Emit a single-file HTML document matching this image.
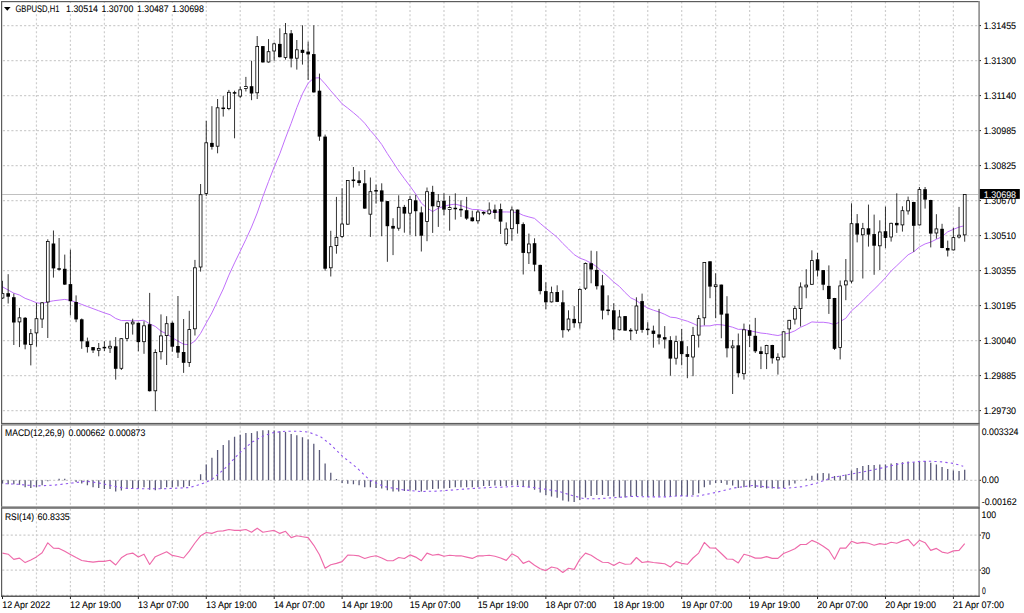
<!DOCTYPE html>
<html><head><meta charset="utf-8"><style>
html,body{margin:0;padding:0;background:#fff;}
body{width:1024px;height:613px;overflow:hidden;}
svg{display:block;}
</style></head><body>
<svg width="1024" height="613" viewBox="0 0 1024 613" shape-rendering="geometricPrecision">
<rect x="0" y="0" width="1024" height="613" fill="#fff"/>
<path d="M36.46 1.5V422.9M36.46 426.3V506.3M36.46 508.7V595.5M70.42 1.5V422.9M70.42 426.3V506.3M70.42 508.7V595.5M104.38 1.5V422.9M104.38 426.3V506.3M104.38 508.7V595.5M138.34 1.5V422.9M138.34 426.3V506.3M138.34 508.7V595.5M172.30 1.5V422.9M172.30 426.3V506.3M172.30 508.7V595.5M206.26 1.5V422.9M206.26 426.3V506.3M206.26 508.7V595.5M240.22 1.5V422.9M240.22 426.3V506.3M240.22 508.7V595.5M274.18 1.5V422.9M274.18 426.3V506.3M274.18 508.7V595.5M308.14 1.5V422.9M308.14 426.3V506.3M308.14 508.7V595.5M342.10 1.5V422.9M342.10 426.3V506.3M342.10 508.7V595.5M376.06 1.5V422.9M376.06 426.3V506.3M376.06 508.7V595.5M410.02 1.5V422.9M410.02 426.3V506.3M410.02 508.7V595.5M443.98 1.5V422.9M443.98 426.3V506.3M443.98 508.7V595.5M477.94 1.5V422.9M477.94 426.3V506.3M477.94 508.7V595.5M511.90 1.5V422.9M511.90 426.3V506.3M511.90 508.7V595.5M545.86 1.5V422.9M545.86 426.3V506.3M545.86 508.7V595.5M579.82 1.5V422.9M579.82 426.3V506.3M579.82 508.7V595.5M613.78 1.5V422.9M613.78 426.3V506.3M613.78 508.7V595.5M647.74 1.5V422.9M647.74 426.3V506.3M647.74 508.7V595.5M681.70 1.5V422.9M681.70 426.3V506.3M681.70 508.7V595.5M715.66 1.5V422.9M715.66 426.3V506.3M715.66 508.7V595.5M749.62 1.5V422.9M749.62 426.3V506.3M749.62 508.7V595.5M783.58 1.5V422.9M783.58 426.3V506.3M783.58 508.7V595.5M817.54 1.5V422.9M817.54 426.3V506.3M817.54 508.7V595.5M851.50 1.5V422.9M851.50 426.3V506.3M851.50 508.7V595.5M885.46 1.5V422.9M885.46 426.3V506.3M885.46 508.7V595.5M919.42 1.5V422.9M919.42 426.3V506.3M919.42 508.7V595.5M953.38 1.5V422.9M953.38 426.3V506.3M953.38 508.7V595.5" stroke="#cecece" stroke-width="1.2" stroke-dasharray="2.1228 2.1228" fill="none"/>
<path d="M2.87 25.60H978.2M2.87 60.60H978.2M2.87 95.60H978.2M2.87 130.60H978.2M2.87 165.60H978.2M2.87 200.60H978.2M2.87 235.60H978.2M2.87 270.60H978.2M2.87 305.60H978.2M2.87 340.60H978.2M2.87 375.60H978.2M2.87 410.60H978.2M2.2 480.3H978.2M2.2 535.1H978.2M2.2 570.1H978.2M2.2 595.3H978.2" stroke="#cecece" stroke-width="1.2" stroke-dasharray="2.1228 2.1228" fill="none"/>
<path d="M2.2 194.5H978.2" stroke="#c0c0c0" stroke-width="1" fill="none"/>
<defs><clipPath id="cm"><rect x="2" y="2" width="976.3" height="420.9"/></clipPath><clipPath id="cmacd"><rect x="2" y="425.6" width="976.3" height="80.7"/></clipPath><clipPath id="crsi"><rect x="2" y="508.7" width="976.3" height="86.8"/></clipPath></defs>
<rect x="2.2" y="3" width="203" height="11" fill="#fff"/>
<rect x="2.2" y="428.3" width="145" height="10.2" fill="#fff"/>
<polyline clip-path="url(#cm)" points="1.50,286.27 8.16,290.03 13.82,293.16 19.48,295.04 25.14,298.33 30.80,300.42 36.46,302.74 42.12,303.56 47.78,301.87 53.44,300.79 59.10,300.10 64.76,299.42 70.42,300.36 76.08,302.28 81.74,304.41 87.40,306.54 93.06,308.66 98.72,310.78 104.38,312.90 110.04,314.69 115.70,318.48 121.36,320.55 127.02,320.57 132.68,320.81 138.34,320.68 144.00,320.28 149.66,323.93 155.32,326.42 160.98,331.14 166.64,333.89 172.30,337.74 177.96,341.14 183.62,344.22 189.28,344.71 194.94,341.01 200.60,333.37 206.26,322.97 211.92,312.90 217.58,300.88 223.24,289.00 228.90,275.15 234.56,262.90 240.22,251.24 245.88,239.45 251.54,227.03 257.20,213.06 262.86,196.62 268.52,181.58 274.18,166.98 279.84,153.67 285.50,138.00 291.16,123.30 296.82,107.63 302.48,93.81 308.14,83.17 313.80,78.07 319.46,77.78 325.12,83.87 330.78,90.81 336.44,97.23 342.10,103.82 347.76,108.14 353.42,112.70 359.08,117.53 364.74,123.28 370.40,130.55 376.06,136.98 381.72,144.50 387.38,153.63 393.04,162.20 398.70,170.88 404.36,178.63 410.02,186.12 415.68,194.03 421.34,203.10 427.00,208.04 432.66,211.53 438.32,208.16 443.98,206.33 449.64,204.85 455.30,204.12 460.96,205.62 466.62,207.52 472.28,209.43 477.94,209.58 483.60,210.69 489.26,211.62 494.92,212.19 500.58,211.95 506.24,211.95 511.90,212.09 517.56,212.61 523.22,215.30 528.88,216.93 534.54,218.38 540.20,223.37 545.86,228.17 551.52,232.72 557.18,237.33 562.84,243.47 568.50,248.95 574.16,254.61 579.82,258.13 585.48,260.23 591.14,263.12 596.80,266.75 602.46,271.80 608.12,276.69 613.78,282.07 619.44,286.48 625.10,292.53 630.76,297.86 636.42,300.50 642.08,304.81 647.74,308.06 653.40,310.20 659.06,311.97 664.72,314.33 670.38,317.17 676.04,317.72 681.70,319.50 687.36,321.18 693.02,323.49 698.68,326.24 704.34,325.87 710.00,325.89 715.66,324.58 721.32,324.79 726.98,325.73 732.64,327.22 738.30,329.35 743.96,329.27 749.62,330.78 755.28,331.85 760.94,333.06 766.60,333.62 772.26,334.65 777.92,335.52 783.58,334.16 789.24,333.09 794.90,330.80 800.56,327.28 806.22,324.81 811.88,321.92 817.54,322.34 823.20,322.25 828.86,322.96 834.52,324.68 840.18,321.54 845.84,318.25 851.50,310.75 857.16,306.01 862.82,300.64 868.48,294.80 874.14,289.39 879.80,283.72 885.46,277.70 891.12,271.00 896.78,265.69 902.44,260.21 908.10,254.81 913.76,251.78 919.42,246.95 925.08,243.92 930.74,242.08 936.40,239.27 942.06,236.72 947.72,231.80 953.38,229.38 959.04,227.10 964.70,225.64" fill="none" stroke="#c070fb" stroke-width="1.0" stroke-linejoin="round"/>
<g clip-path="url(#cm)">
<path d="M2.50 280.80V299.00M8.16 274.20V303.50M13.82 293.60V345.00M19.48 307.90V347.10M25.14 317.00V349.30M30.80 329.00V365.40M36.46 302.90V346.60M42.12 302.00V328.00M47.78 239.30V338.00M53.44 230.50V277.60M59.10 238.00V270.50M64.76 254.60V285.00M70.42 249.60V315.40M76.08 295.40V322.20M81.74 318.50V348.80M87.40 337.60V352.60M93.06 347.00V353.00M98.72 343.00V356.30M104.38 341.30V351.00M110.04 341.00V353.00M115.70 337.10V379.60M121.36 338.00V370.00M127.02 322.00V341.30M132.68 318.70V334.60M138.34 322.50V351.30M144.00 321.20V353.80M149.66 292.90V391.50M155.32 349.30V411.20M160.98 314.40V359.60M166.64 316.20V365.00M172.30 321.50V351.70M177.96 296.00V358.00M183.62 319.00V372.90M189.28 310.80V366.90M194.94 259.90V335.50M200.60 184.00V271.60M206.26 120.80V196.00M211.92 106.20V149.60M217.58 99.00V153.30M223.24 95.70V116.60M228.90 89.90V110.20M234.56 90.70V138.30M240.22 86.50V98.20M245.88 76.90V91.50M251.54 60.80V100.20M257.20 36.10V99.00M262.86 46.00V62.60M268.52 39.10V62.60M274.18 42.50V60.80M279.84 28.30V57.40M285.50 23.00V59.60M291.16 30.00V67.40M296.82 40.00V69.60M302.48 25.30V64.60M308.14 41.60V79.90M313.80 25.30V92.60M319.46 73.60V140.80M325.12 134.60V270.70M330.78 230.80V276.50M336.44 196.90V253.70M342.10 188.30V238.20M347.76 180.00V224.80M353.42 167.00V187.50M359.08 171.30V185.80M364.74 170.00V208.80M370.40 177.50V236.90M376.06 184.60V203.60M381.72 183.30V236.20M387.38 201.00V261.80M393.04 218.20V255.10M398.70 195.30V230.70M404.36 204.90V232.70M410.02 195.80V234.90M415.68 194.90V236.20M421.34 206.60V251.50M427.00 187.50V241.20M432.66 185.80V232.90M438.32 194.10V226.90M443.98 193.30V215.20M449.64 195.80V230.70M455.30 193.30V219.60M460.96 200.30V216.90M466.62 196.90V219.90M472.28 210.70V221.50M477.94 209.90V223.60M483.60 211.50V215.20M489.26 202.40V214.90M494.92 204.60V219.10M500.58 203.60V234.00M506.24 222.40V245.70M511.90 206.60V240.70M517.56 209.50V233.60M523.22 222.40V274.50M528.88 233.60V264.00M534.54 238.30V271.30M540.20 264.70V294.40M545.86 282.30V309.40M551.52 286.60V302.50M557.18 285.30V302.10M562.84 290.30V337.70M568.50 310.30V331.60M574.16 306.10V327.70M579.82 288.20V328.60M585.48 262.50V290.00M591.14 250.70V283.30M596.80 251.20V289.50M602.46 274.90V319.40M608.12 295.30V315.20M613.78 303.30V340.20M619.44 309.90V330.40M625.10 316.00V330.80M630.76 328.20V340.20M636.42 297.30V333.90M642.08 293.60V332.70M647.74 322.20V335.20M653.40 325.60V347.70M659.06 308.90V344.40M664.72 326.10V348.50M670.38 336.20V375.70M676.04 335.70V364.60M681.70 329.00V365.30M687.36 346.20V378.20M693.02 326.90V376.20M698.68 315.20V347.50M704.34 262.00V325.30M710.00 261.30V298.20M715.66 273.30V318.20M721.32 284.60V338.30M726.98 296.20V357.40M732.64 340.00V394.00M738.30 333.50V377.40M743.96 323.60V379.60M749.62 324.60V347.00M755.28 317.90V353.00M760.94 346.60V369.10M766.60 344.80V369.10M772.26 344.80V363.60M777.92 353.30V374.60M783.58 331.30V357.60M789.24 319.90V340.80M794.90 305.70V324.50M800.56 282.40V326.50M806.22 269.20V298.30M811.88 250.30V284.90M817.54 253.00V276.50M823.20 270.00V290.20M828.86 265.40V313.90M834.52 297.90V350.00M840.18 280.50V359.40M845.84 259.00V300.20M851.50 203.30V283.30M857.16 214.10V242.40M862.82 222.90V278.50M868.48 204.60V246.60M874.14 214.60V274.80M879.80 220.30V270.00M885.46 206.60V248.20M891.12 222.70V241.60M896.78 193.30V232.90M902.44 206.30V231.60M908.10 196.60V214.60M913.76 201.80V251.90M919.42 187.00V225.50M925.08 187.00V208.60M930.74 199.80V247.40M936.40 214.20V238.70M942.06 223.80V248.20M947.72 240.60V256.50M953.38 227.80V250.50M959.04 206.90V238.50M964.70 194.00V241.70" stroke="#000" stroke-width="0.8" fill="none"/>
<g fill="#000"><rect x="6.36" y="293.20" width="3.6" height="3.50"/><rect x="12.02" y="297.20" width="3.6" height="25.30"/><rect x="23.34" y="317.80" width="3.6" height="26.80"/><rect x="51.64" y="243.50" width="3.6" height="24.90"/><rect x="57.30" y="268.25" width="3.6" height="1.50"/><rect x="62.96" y="268.80" width="3.6" height="15.80"/><rect x="68.62" y="284.10" width="3.6" height="17.10"/><rect x="74.28" y="302.00" width="3.6" height="17.40"/><rect x="79.94" y="319.30" width="3.6" height="22.00"/><rect x="85.60" y="341.30" width="3.6" height="5.80"/><rect x="91.26" y="347.10" width="3.6" height="3.30"/><rect x="102.58" y="346.85" width="3.6" height="1.50"/><rect x="113.90" y="346.30" width="3.6" height="22.50"/><rect x="136.54" y="322.80" width="3.6" height="19.30"/><rect x="147.86" y="324.20" width="3.6" height="67.00"/><rect x="170.50" y="322.80" width="3.6" height="23.90"/><rect x="176.16" y="346.00" width="3.6" height="6.60"/><rect x="181.82" y="352.00" width="3.6" height="10.80"/><rect x="210.12" y="142.90" width="3.6" height="4.00"/><rect x="221.44" y="107.55" width="3.6" height="1.50"/><rect x="232.76" y="92.15" width="3.6" height="1.50"/><rect x="249.74" y="86.20" width="3.6" height="7.30"/><rect x="261.06" y="46.10" width="3.6" height="16.30"/><rect x="278.04" y="43.90" width="3.6" height="13.30"/><rect x="289.36" y="33.30" width="3.6" height="25.30"/><rect x="300.68" y="49.80" width="3.6" height="3.10"/><rect x="306.34" y="51.60" width="3.6" height="2.80"/><rect x="312.00" y="54.10" width="3.6" height="38.30"/><rect x="317.66" y="90.70" width="3.6" height="45.90"/><rect x="323.32" y="136.60" width="3.6" height="132.10"/><rect x="351.62" y="179.55" width="3.6" height="1.50"/><rect x="357.28" y="180.30" width="3.6" height="2.70"/><rect x="362.94" y="183.30" width="3.6" height="25.30"/><rect x="374.26" y="190.05" width="3.6" height="1.50"/><rect x="379.92" y="190.40" width="3.6" height="11.20"/><rect x="385.58" y="201.10" width="3.6" height="25.10"/><rect x="391.24" y="225.90" width="3.6" height="2.70"/><rect x="402.56" y="206.90" width="3.6" height="6.70"/><rect x="413.88" y="200.30" width="3.6" height="10.90"/><rect x="419.54" y="212.40" width="3.6" height="23.30"/><rect x="430.86" y="191.90" width="3.6" height="14.40"/><rect x="442.18" y="200.80" width="3.6" height="8.80"/><rect x="453.50" y="207.75" width="3.6" height="1.50"/><rect x="459.16" y="208.85" width="3.6" height="1.50"/><rect x="464.82" y="210.20" width="3.6" height="8.40"/><rect x="470.48" y="217.40" width="3.6" height="3.80"/><rect x="481.80" y="211.90" width="3.6" height="1.70"/><rect x="493.12" y="209.60" width="3.6" height="3.30"/><rect x="498.78" y="209.10" width="3.6" height="12.50"/><rect x="515.76" y="209.60" width="3.6" height="14.50"/><rect x="521.42" y="224.10" width="3.6" height="28.80"/><rect x="532.74" y="243.20" width="3.6" height="21.50"/><rect x="538.40" y="264.90" width="3.6" height="26.20"/><rect x="544.06" y="291.10" width="3.6" height="11.20"/><rect x="555.38" y="292.00" width="3.6" height="9.90"/><rect x="561.04" y="302.30" width="3.6" height="27.90"/><rect x="572.36" y="318.90" width="3.6" height="4.30"/><rect x="589.34" y="263.20" width="3.6" height="6.30"/><rect x="595.00" y="269.90" width="3.6" height="16.30"/><rect x="600.66" y="285.40" width="3.6" height="25.20"/><rect x="606.32" y="309.55" width="3.6" height="1.50"/><rect x="611.98" y="310.30" width="3.6" height="19.10"/><rect x="623.30" y="316.10" width="3.6" height="14.50"/><rect x="628.96" y="329.85" width="3.6" height="1.50"/><rect x="640.28" y="301.10" width="3.6" height="28.80"/><rect x="645.94" y="328.65" width="3.6" height="1.50"/><rect x="651.60" y="330.60" width="3.6" height="3.30"/><rect x="657.26" y="334.40" width="3.6" height="3.30"/><rect x="662.92" y="337.20" width="3.6" height="2.30"/><rect x="668.58" y="340.10" width="3.6" height="18.50"/><rect x="679.90" y="341.20" width="3.6" height="12.90"/><rect x="685.56" y="354.10" width="3.6" height="2.80"/><rect x="708.20" y="261.30" width="3.6" height="25.30"/><rect x="719.52" y="284.60" width="3.6" height="30.00"/><rect x="725.18" y="313.60" width="3.6" height="34.70"/><rect x="736.50" y="345.30" width="3.6" height="27.90"/><rect x="747.82" y="330.20" width="3.6" height="5.60"/><rect x="753.48" y="335.80" width="3.6" height="15.50"/><rect x="759.14" y="351.20" width="3.6" height="2.80"/><rect x="770.46" y="345.00" width="3.6" height="13.30"/><rect x="815.74" y="259.30" width="3.6" height="11.20"/><rect x="821.40" y="270.10" width="3.6" height="14.60"/><rect x="827.06" y="285.90" width="3.6" height="13.10"/><rect x="832.72" y="298.00" width="3.6" height="50.80"/><rect x="855.36" y="223.30" width="3.6" height="11.30"/><rect x="866.68" y="228.30" width="3.6" height="6.30"/><rect x="872.34" y="234.10" width="3.6" height="11.60"/><rect x="883.66" y="231.20" width="3.6" height="6.70"/><rect x="894.98" y="222.90" width="3.6" height="2.40"/><rect x="911.96" y="202.00" width="3.6" height="23.80"/><rect x="923.28" y="189.20" width="3.6" height="10.40"/><rect x="928.94" y="200.00" width="3.6" height="33.60"/><rect x="940.26" y="228.80" width="3.6" height="19.20"/><rect x="945.92" y="248.00" width="3.6" height="2.50"/></g>
<g fill="#fff" stroke="#000" stroke-width="0.8"><rect x="1.10" y="293.60" width="2.80" height="4.40"/><rect x="18.08" y="317.80" width="2.80" height="4.10"/><rect x="29.40" y="333.70" width="2.80" height="10.90"/><rect x="35.06" y="318.70" width="2.80" height="14.20"/><rect x="40.72" y="302.80" width="2.80" height="16.20"/><rect x="46.38" y="241.40" width="2.80" height="60.60"/><rect x="97.32" y="348.45" width="2.80" height="1.80"/><rect x="108.64" y="346.25" width="2.80" height="1.80"/><rect x="119.96" y="338.70" width="2.80" height="29.60"/><rect x="125.62" y="323.10" width="2.80" height="15.30"/><rect x="131.28" y="322.10" width="2.80" height="1.80"/><rect x="142.60" y="325.80" width="2.80" height="15.90"/><rect x="153.92" y="352.50" width="2.80" height="38.30"/><rect x="159.58" y="335.90" width="2.80" height="15.80"/><rect x="165.24" y="323.70" width="2.80" height="11.90"/><rect x="187.88" y="329.60" width="2.80" height="32.80"/><rect x="193.54" y="267.80" width="2.80" height="61.00"/><rect x="199.20" y="194.70" width="2.80" height="72.30"/><rect x="204.86" y="142.80" width="2.80" height="50.60"/><rect x="216.18" y="107.80" width="2.80" height="38.40"/><rect x="227.50" y="92.30" width="2.80" height="16.30"/><rect x="238.82" y="89.80" width="2.80" height="6.30"/><rect x="244.48" y="86.60" width="2.80" height="1.80"/><rect x="255.80" y="46.50" width="2.80" height="46.30"/><rect x="267.12" y="51.70" width="2.80" height="10.30"/><rect x="272.78" y="43.80" width="2.80" height="7.20"/><rect x="284.10" y="33.70" width="2.80" height="23.70"/><rect x="295.42" y="49.80" width="2.80" height="8.40"/><rect x="329.38" y="246.70" width="2.80" height="21.10"/><rect x="335.04" y="237.30" width="2.80" height="8.30"/><rect x="340.70" y="224.00" width="2.80" height="12.50"/><rect x="346.36" y="180.40" width="2.80" height="43.80"/><rect x="369.00" y="191.70" width="2.80" height="22.50"/><rect x="397.30" y="207.30" width="2.80" height="20.90"/><rect x="408.62" y="199.50" width="2.80" height="13.70"/><rect x="425.60" y="191.70" width="2.80" height="29.80"/><rect x="436.92" y="201.70" width="2.80" height="4.80"/><rect x="448.24" y="207.60" width="2.80" height="1.80"/><rect x="476.54" y="212.00" width="2.80" height="8.80"/><rect x="487.86" y="210.00" width="2.80" height="3.70"/><rect x="504.84" y="229.00" width="2.80" height="14.70"/><rect x="510.50" y="210.00" width="2.80" height="18.70"/><rect x="527.48" y="244.00" width="2.80" height="8.80"/><rect x="550.12" y="292.70" width="2.80" height="9.20"/><rect x="567.10" y="319.00" width="2.80" height="10.80"/><rect x="578.42" y="289.40" width="2.80" height="33.40"/><rect x="584.08" y="263.50" width="2.80" height="24.70"/><rect x="618.04" y="317.00" width="2.80" height="12.80"/><rect x="635.02" y="306.00" width="2.80" height="24.20"/><rect x="674.64" y="341.60" width="2.80" height="16.60"/><rect x="691.62" y="335.50" width="2.80" height="21.50"/><rect x="697.28" y="318.60" width="2.80" height="16.50"/><rect x="702.94" y="262.40" width="2.80" height="55.40"/><rect x="714.26" y="284.85" width="2.80" height="1.80"/><rect x="731.24" y="346.00" width="2.80" height="1.80"/><rect x="742.56" y="329.80" width="2.80" height="43.90"/><rect x="765.20" y="345.40" width="2.80" height="8.30"/><rect x="776.52" y="357.30" width="2.80" height="2.60"/><rect x="782.18" y="331.80" width="2.80" height="25.20"/><rect x="787.84" y="320.30" width="2.80" height="8.60"/><rect x="793.50" y="308.60" width="2.80" height="10.50"/><rect x="799.16" y="287.00" width="2.80" height="21.60"/><rect x="804.82" y="285.10" width="2.80" height="1.80"/><rect x="810.48" y="260.60" width="2.80" height="23.70"/><rect x="838.78" y="285.90" width="2.80" height="61.60"/><rect x="844.44" y="280.90" width="2.80" height="4.00"/><rect x="850.10" y="223.70" width="2.80" height="57.40"/><rect x="861.42" y="228.70" width="2.80" height="6.10"/><rect x="878.40" y="232.00" width="2.80" height="13.80"/><rect x="889.72" y="223.30" width="2.80" height="13.70"/><rect x="901.04" y="210.70" width="2.80" height="14.20"/><rect x="906.70" y="200.70" width="2.80" height="10.20"/><rect x="918.02" y="189.60" width="2.80" height="35.30"/><rect x="935.00" y="228.90" width="2.80" height="4.10"/><rect x="951.98" y="237.60" width="2.80" height="12.30"/><rect x="957.64" y="235.20" width="2.80" height="1.80"/><rect x="963.30" y="194.40" width="2.80" height="40.50"/></g>
</g>
<path clip-path="url(#cmacd)" d="M2.50 480.3V483.40M8.16 480.3V484.30M13.82 480.3V484.30M19.48 480.3V484.80M25.14 480.3V487.30M30.80 480.3V487.90M36.46 480.3V487.30M42.12 480.3V485.20M47.78 480.3V481.20M59.10 480.3V478.80M64.76 480.3V478.80M76.08 480.3V481.90M81.74 480.3V483.40M87.40 480.3V485.20M93.06 480.3V487.30M98.72 480.3V487.90M104.38 480.3V489.10M110.04 480.3V489.10M115.70 480.3V491.50M121.36 480.3V490.60M127.02 480.3V489.10M132.68 480.3V488.40M138.34 480.3V488.40M144.00 480.3V487.30M149.66 480.3V489.70M155.32 480.3V490.20M160.98 480.3V489.10M166.64 480.3V487.30M172.30 480.3V487.30M177.96 480.3V486.60M183.62 480.3V487.30M189.28 480.3V486.00M194.94 480.3V480.80M200.60 480.3V474.20M206.26 480.3V464.40M211.92 480.3V457.80M217.58 480.3V450.00M223.24 480.3V445.00M228.90 480.3V440.20M234.56 480.3V436.70M240.22 480.3V434.70M245.88 480.3V433.10M251.54 480.3V433.10M257.20 480.3V431.25M262.86 480.3V430.20M268.52 480.3V430.20M274.18 480.3V430.50M279.84 480.3V431.25M285.50 480.3V432.00M291.16 480.3V433.90M296.82 480.3V435.30M302.48 480.3V437.20M308.14 480.3V439.40M313.80 480.3V443.75M319.46 480.3V450.00M325.12 480.3V463.60M330.78 480.3V472.80M336.44 480.3V478.90M342.10 480.3V483.00M347.76 480.3V483.70M353.42 480.3V484.30M359.08 480.3V485.20M364.74 480.3V487.30M370.40 480.3V487.30M376.06 480.3V487.90M381.72 480.3V488.40M387.38 480.3V490.20M393.04 480.3V491.50M398.70 480.3V491.50M404.36 480.3V490.90M410.02 480.3V490.60M415.68 480.3V490.20M421.34 480.3V491.50M427.00 480.3V489.70M432.66 480.3V489.10M438.32 480.3V488.80M443.98 480.3V488.40M449.64 480.3V487.90M455.30 480.3V487.30M460.96 480.3V487.30M466.62 480.3V487.30M472.28 480.3V487.30M477.94 480.3V487.00M483.60 480.3V486.10M489.26 480.3V486.10M494.92 480.3V485.50M500.58 480.3V486.10M506.24 480.3V486.10M511.90 480.3V485.20M517.56 480.3V485.20M523.22 480.3V487.00M528.88 480.3V487.30M534.54 480.3V489.70M540.20 480.3V492.40M545.86 480.3V495.10M551.52 480.3V496.40M557.18 480.3V497.80M562.84 480.3V500.50M568.50 480.3V501.40M574.16 480.3V502.00M579.82 480.3V500.00M585.48 480.3V497.50M591.14 480.3V496.00M596.80 480.3V495.10M602.46 480.3V495.10M608.12 480.3V496.00M613.78 480.3V496.40M619.44 480.3V497.50M625.10 480.3V497.50M630.76 480.3V496.40M636.42 480.3V496.00M642.08 480.3V496.00M647.74 480.3V496.90M653.40 480.3V496.40M659.06 480.3V496.40M664.72 480.3V496.40M670.38 480.3V496.40M676.04 480.3V496.00M681.70 480.3V496.00M687.36 480.3V496.40M693.02 480.3V495.10M698.68 480.3V493.30M704.34 480.3V487.30M710.00 480.3V484.80M715.66 480.3V483.00M721.32 480.3V483.00M726.98 480.3V484.80M732.64 480.3V485.50M738.30 480.3V487.90M743.96 480.3V487.30M749.62 480.3V487.30M755.28 480.3V487.90M760.94 480.3V487.90M766.60 480.3V488.40M772.26 480.3V488.40M777.92 480.3V488.80M783.58 480.3V487.90M789.24 480.3V485.50M794.90 480.3V483.40M800.56 480.3V480.60M806.22 480.3V478.80M811.88 480.3V475.80M817.54 480.3V473.40M823.20 480.3V472.90M828.86 480.3V473.40M834.52 480.3V476.10M840.18 480.3V475.80M845.84 480.3V474.50M851.50 480.3V470.60M857.16 480.3V468.00M862.82 480.3V466.00M868.48 480.3V465.10M874.14 480.3V465.10M879.80 480.3V464.40M885.46 480.3V464.40M891.12 480.3V463.40M896.78 480.3V462.90M902.44 480.3V462.20M908.10 480.3V461.50M913.76 480.3V462.20M919.42 480.3V461.00M925.08 480.3V461.00M930.74 480.3V462.70M936.40 480.3V464.40M942.06 480.3V466.90M947.72 480.3V469.00M953.38 480.3V470.40M959.04 480.3V470.90M964.70 480.3V469.70" stroke="#5a5a78" stroke-width="1.3" fill="none"/>
<polyline clip-path="url(#cmacd)" points="0.0,483.4 18.0,484.3 36.0,486.0 54.0,485.2 72.3,483.0 86.7,481.2 101.2,483.4 115.6,486.6 126.5,488.4 144.5,488.8 162.6,488.8 180.7,488.0 189.4,487.6 200.3,484.4 211.2,480.0 223.8,469.5 240.2,452.3 251.9,442.2 262.8,436.2 273.8,432.5 286.2,431.2 298.8,431.2 308.1,432.0 320.6,436.7 330.0,444.0 342.6,456.3 357.1,468.0 369.7,480.1 384.2,486.6 402.3,489.7 420.3,491.5 438.4,491.1 456.5,489.7 474.5,488.4 492.6,487.3 505.0,487.1 515.8,486.1 532.1,487.3 544.7,489.1 559.2,491.5 573.7,496.0 584.5,498.7 598.9,498.7 617.0,497.5 631.5,496.4 649.5,496.9 667.6,496.9 678.4,495.8 689.3,496.0 698.1,496.0 716.1,492.4 734.2,487.9 752.3,485.5 770.3,487.3 784.8,488.4 802.9,486.6 817.3,483.0 831.8,477.6 840.0,476.1 851.3,474.0 862.7,471.9 874.0,469.7 885.3,467.2 896.6,464.4 908.0,462.7 919.3,461.5 930.6,461.2 942.0,461.9 953.3,463.4 963.2,466.2" fill="none" stroke="#8f55ee" stroke-width="1.1" stroke-dasharray="2.3 3.2"/>
<polyline clip-path="url(#crsi)" points="2.50,553.1 8.16,554.2 13.82,559.4 19.48,558.1 25.14,562.6 30.80,559.9 36.46,556.9 42.12,552.7 47.78,542.8 53.44,548.2 59.10,548.4 64.76,551.3 70.42,554.5 76.08,557.6 81.74,560.5 87.40,561.4 93.06,562.1 98.72,561.4 104.38,561.4 110.04,560.3 115.70,565.0 121.36,557.8 127.02,554.2 132.68,553.1 138.34,556.9 144.00,554.2 149.66,564.5 155.32,556.7 160.98,554.2 166.64,551.8 172.30,555.4 177.96,556.5 183.62,558.0 189.28,551.1 194.94,543.0 200.60,535.8 206.26,532.5 211.92,533.4 217.58,531.3 223.24,530.9 228.90,529.5 234.56,530.4 240.22,530.4 245.88,529.5 251.54,532.2 257.20,528.2 262.86,532.2 268.52,531.3 274.18,530.4 279.84,533.4 285.50,531.3 291.16,537.6 296.82,535.8 302.48,536.7 308.14,537.6 313.80,545.3 319.46,554.7 325.12,568.3 330.78,564.7 336.44,563.4 342.10,561.6 347.76,555.1 353.42,555.2 359.08,555.9 364.74,558.5 370.40,556.7 376.06,555.8 381.72,558.0 387.38,560.7 393.04,560.7 398.70,557.5 404.36,558.5 410.02,554.9 415.68,557.1 421.34,560.7 427.00,553.1 432.66,555.3 438.32,554.4 443.98,556.2 449.64,555.3 455.30,555.8 460.96,555.8 466.62,557.1 472.28,558.4 477.94,555.8 483.60,555.8 489.26,555.3 494.92,556.2 500.58,558.0 506.24,560.4 511.90,553.8 517.56,556.7 523.22,563.4 528.88,561.0 534.54,565.2 540.20,568.8 545.86,570.6 551.52,567.0 557.18,568.3 562.84,572.5 568.50,568.3 574.16,569.4 579.82,559.3 585.48,553.1 591.14,555.3 596.80,558.9 602.46,562.2 608.12,562.5 613.78,565.6 619.44,562.2 625.10,564.3 630.76,564.0 636.42,557.5 642.08,562.5 647.74,561.6 653.40,562.5 659.06,563.1 664.72,563.8 670.38,567.0 676.04,561.6 681.70,563.4 687.36,564.3 693.02,558.0 698.68,553.1 704.34,542.4 710.00,548.0 715.66,548.1 721.32,553.5 726.98,559.0 732.64,559.3 738.30,562.9 743.96,554.3 749.62,555.7 755.28,558.1 760.94,558.1 766.60,556.6 772.26,558.4 777.92,558.4 783.58,553.5 789.24,551.2 794.90,548.8 800.56,544.5 806.22,544.5 811.88,540.4 817.54,542.7 823.20,546.3 828.86,550.3 834.52,559.3 840.18,548.1 845.84,548.1 851.50,541.3 857.16,543.4 862.82,542.4 868.48,543.3 874.14,545.2 879.80,543.6 885.46,544.5 891.12,542.3 896.78,543.3 902.44,540.9 908.10,539.4 913.76,545.8 919.42,540.3 925.08,542.7 930.74,550.4 936.40,548.4 942.06,552.1 947.72,553.3 953.38,550.9 959.04,550.4 964.70,543.6" fill="none" stroke="#ee6aaa" stroke-width="1.15" stroke-linejoin="round"/>
<rect x="1" y="1" width="1.2" height="422" fill="#5c5c5c"/>
<rect x="1" y="1" width="978" height="1.2" fill="#5c5c5c"/>
<rect x="978.3" y="1" width="1.6" height="595.5" fill="#8c8c8c"/>
<rect x="1" y="422.9" width="978.5" height="1.3" fill="#5c5c5c"/>
<rect x="1" y="424.2" width="978.5" height="1.4" fill="#8c8c8c"/>
<rect x="1" y="425" width="1.2" height="82" fill="#5c5c5c"/>
<rect x="1" y="506.3" width="978.5" height="0.9" fill="#8c8c8c"/>
<rect x="1" y="507.2" width="978.5" height="1.5" fill="#5c5c5c"/>
<rect x="1" y="508" width="1.2" height="89" fill="#5c5c5c"/>
<rect x="1" y="595.6" width="978.8" height="1.3" fill="#484848"/>
<path d="M979.6 25.60H981M979.6 60.60H981M979.6 95.60H981M979.6 130.60H981M979.6 165.60H981M979.6 200.60H981M979.6 235.60H981M979.6 270.60H981M979.6 305.60H981M979.6 340.60H981M979.6 375.60H981M979.6 410.60H981M979.6 480.3H981M979.6 535.1H981M979.6 570.1H981" stroke="#222" stroke-width="1" fill="none"/>
<path d="M2.50 596.5V599M70.42 596.5V599M138.34 596.5V599M206.26 596.5V599M274.18 596.5V599M342.10 596.5V599M410.02 596.5V599M477.94 596.5V599M545.86 596.5V599M613.78 596.5V599M681.70 596.5V599M749.62 596.5V599M817.54 596.5V599M885.46 596.5V599M953.38 596.5V599" stroke="#222" stroke-width="1" fill="none"/>
<g font-family='"Liberation Sans", sans-serif'><text x="983.80" y="28.90" font-size="9.6" fill="#000" text-rendering="geometricPrecision" textLength="32.30" lengthAdjust="spacingAndGlyphs" stroke="#000" stroke-width="0.08">1.31455</text><text x="983.80" y="63.90" font-size="9.6" fill="#000" text-rendering="geometricPrecision" textLength="32.30" lengthAdjust="spacingAndGlyphs" stroke="#000" stroke-width="0.08">1.31300</text><text x="983.80" y="98.90" font-size="9.6" fill="#000" text-rendering="geometricPrecision" textLength="32.30" lengthAdjust="spacingAndGlyphs" stroke="#000" stroke-width="0.08">1.31140</text><text x="983.80" y="133.90" font-size="9.6" fill="#000" text-rendering="geometricPrecision" textLength="32.30" lengthAdjust="spacingAndGlyphs" stroke="#000" stroke-width="0.08">1.30985</text><text x="983.80" y="168.90" font-size="9.6" fill="#000" text-rendering="geometricPrecision" textLength="32.30" lengthAdjust="spacingAndGlyphs" stroke="#000" stroke-width="0.08">1.30825</text><text x="983.80" y="203.90" font-size="9.6" fill="#000" text-rendering="geometricPrecision" textLength="32.30" lengthAdjust="spacingAndGlyphs" stroke="#000" stroke-width="0.08">1.30670</text><text x="983.80" y="238.90" font-size="9.6" fill="#000" text-rendering="geometricPrecision" textLength="32.30" lengthAdjust="spacingAndGlyphs" stroke="#000" stroke-width="0.08">1.30510</text><text x="983.80" y="273.90" font-size="9.6" fill="#000" text-rendering="geometricPrecision" textLength="32.30" lengthAdjust="spacingAndGlyphs" stroke="#000" stroke-width="0.08">1.30355</text><text x="983.80" y="308.90" font-size="9.6" fill="#000" text-rendering="geometricPrecision" textLength="32.30" lengthAdjust="spacingAndGlyphs" stroke="#000" stroke-width="0.08">1.30195</text><text x="983.80" y="343.90" font-size="9.6" fill="#000" text-rendering="geometricPrecision" textLength="32.30" lengthAdjust="spacingAndGlyphs" stroke="#000" stroke-width="0.08">1.30040</text><text x="983.80" y="378.90" font-size="9.6" fill="#000" text-rendering="geometricPrecision" textLength="32.30" lengthAdjust="spacingAndGlyphs" stroke="#000" stroke-width="0.08">1.29885</text><text x="983.80" y="413.90" font-size="9.6" fill="#000" text-rendering="geometricPrecision" textLength="32.30" lengthAdjust="spacingAndGlyphs" stroke="#000" stroke-width="0.08">1.29730</text><text x="2.20" y="607.60" font-size="9.6" fill="#000" text-rendering="geometricPrecision" textLength="47.90" lengthAdjust="spacingAndGlyphs" stroke="#000" stroke-width="0.08">12 Apr 2022</text><text x="70.12" y="607.60" font-size="9.6" fill="#000" text-rendering="geometricPrecision" textLength="50.80" lengthAdjust="spacingAndGlyphs" stroke="#000" stroke-width="0.08">12 Apr 19:00</text><text x="138.04" y="607.60" font-size="9.6" fill="#000" text-rendering="geometricPrecision" textLength="50.80" lengthAdjust="spacingAndGlyphs" stroke="#000" stroke-width="0.08">13 Apr 07:00</text><text x="205.96" y="607.60" font-size="9.6" fill="#000" text-rendering="geometricPrecision" textLength="50.80" lengthAdjust="spacingAndGlyphs" stroke="#000" stroke-width="0.08">13 Apr 19:00</text><text x="273.88" y="607.60" font-size="9.6" fill="#000" text-rendering="geometricPrecision" textLength="50.80" lengthAdjust="spacingAndGlyphs" stroke="#000" stroke-width="0.08">14 Apr 07:00</text><text x="341.80" y="607.60" font-size="9.6" fill="#000" text-rendering="geometricPrecision" textLength="50.80" lengthAdjust="spacingAndGlyphs" stroke="#000" stroke-width="0.08">14 Apr 19:00</text><text x="409.72" y="607.60" font-size="9.6" fill="#000" text-rendering="geometricPrecision" textLength="50.80" lengthAdjust="spacingAndGlyphs" stroke="#000" stroke-width="0.08">15 Apr 07:00</text><text x="477.64" y="607.60" font-size="9.6" fill="#000" text-rendering="geometricPrecision" textLength="50.80" lengthAdjust="spacingAndGlyphs" stroke="#000" stroke-width="0.08">15 Apr 19:00</text><text x="545.56" y="607.60" font-size="9.6" fill="#000" text-rendering="geometricPrecision" textLength="50.80" lengthAdjust="spacingAndGlyphs" stroke="#000" stroke-width="0.08">18 Apr 07:00</text><text x="613.48" y="607.60" font-size="9.6" fill="#000" text-rendering="geometricPrecision" textLength="50.80" lengthAdjust="spacingAndGlyphs" stroke="#000" stroke-width="0.08">18 Apr 19:00</text><text x="681.40" y="607.60" font-size="9.6" fill="#000" text-rendering="geometricPrecision" textLength="50.80" lengthAdjust="spacingAndGlyphs" stroke="#000" stroke-width="0.08">19 Apr 07:00</text><text x="749.32" y="607.60" font-size="9.6" fill="#000" text-rendering="geometricPrecision" textLength="50.80" lengthAdjust="spacingAndGlyphs" stroke="#000" stroke-width="0.08">19 Apr 19:00</text><text x="817.24" y="607.60" font-size="9.6" fill="#000" text-rendering="geometricPrecision" textLength="50.80" lengthAdjust="spacingAndGlyphs" stroke="#000" stroke-width="0.08">20 Apr 07:00</text><text x="885.16" y="607.60" font-size="9.6" fill="#000" text-rendering="geometricPrecision" textLength="50.80" lengthAdjust="spacingAndGlyphs" stroke="#000" stroke-width="0.08">20 Apr 19:00</text><text x="953.08" y="607.60" font-size="9.6" fill="#000" text-rendering="geometricPrecision" textLength="50.80" lengthAdjust="spacingAndGlyphs" stroke="#000" stroke-width="0.08">21 Apr 07:00</text><text x="15.40" y="11.90" font-size="9.6" fill="#000" text-rendering="geometricPrecision" textLength="44.10" lengthAdjust="spacingAndGlyphs" stroke="#000" stroke-width="0.08">GBPUSD,H1</text><text x="66.00" y="11.90" font-size="9.6" fill="#000" text-rendering="geometricPrecision" textLength="32.00" lengthAdjust="spacingAndGlyphs" stroke="#000" stroke-width="0.08">1.30514</text><text x="101.50" y="11.90" font-size="9.6" fill="#000" text-rendering="geometricPrecision" textLength="31.80" lengthAdjust="spacingAndGlyphs" stroke="#000" stroke-width="0.08">1.30700</text><text x="137.00" y="11.90" font-size="9.6" fill="#000" text-rendering="geometricPrecision" textLength="31.60" lengthAdjust="spacingAndGlyphs" stroke="#000" stroke-width="0.08">1.30487</text><text x="171.90" y="11.90" font-size="9.6" fill="#000" text-rendering="geometricPrecision" textLength="32.10" lengthAdjust="spacingAndGlyphs" stroke="#000" stroke-width="0.08">1.30698</text><text x="5.10" y="435.70" font-size="9.6" fill="#000" text-rendering="geometricPrecision" textLength="59.40" lengthAdjust="spacingAndGlyphs" stroke="#000" stroke-width="0.08">MACD(12,26,9)</text><text x="68.60" y="435.70" font-size="9.6" fill="#000" text-rendering="geometricPrecision" textLength="36.60" lengthAdjust="spacingAndGlyphs" stroke="#000" stroke-width="0.08">0.000662</text><text x="108.70" y="435.70" font-size="9.6" fill="#000" text-rendering="geometricPrecision" textLength="36.60" lengthAdjust="spacingAndGlyphs" stroke="#000" stroke-width="0.08">0.000873</text><text x="981.70" y="434.50" font-size="9.6" fill="#000" text-rendering="geometricPrecision" textLength="36.80" lengthAdjust="spacingAndGlyphs" stroke="#000" stroke-width="0.08">0.003324</text><text x="981.70" y="483.40" font-size="9.6" fill="#000" text-rendering="geometricPrecision" textLength="17.20" lengthAdjust="spacingAndGlyphs" stroke="#000" stroke-width="0.08">0.00</text><text x="981.70" y="504.50" font-size="9.6" fill="#000" text-rendering="geometricPrecision" textLength="35.00" lengthAdjust="spacingAndGlyphs" stroke="#000" stroke-width="0.08">-0.00162</text><text x="4.90" y="519.60" font-size="9.6" fill="#000" text-rendering="geometricPrecision" textLength="29.30" lengthAdjust="spacingAndGlyphs" stroke="#000" stroke-width="0.08">RSI(14)</text><text x="37.60" y="519.60" font-size="9.6" fill="#000" text-rendering="geometricPrecision" textLength="32.20" lengthAdjust="spacingAndGlyphs" stroke="#000" stroke-width="0.08">60.8335</text><text x="981.60" y="518.20" font-size="9.6" fill="#000" text-rendering="geometricPrecision" textLength="14.50" lengthAdjust="spacingAndGlyphs" stroke="#000" stroke-width="0.08">100</text><text x="980.90" y="538.90" font-size="9.6" fill="#000" text-rendering="geometricPrecision" textLength="9.30" lengthAdjust="spacingAndGlyphs" stroke="#000" stroke-width="0.08">70</text><text x="980.90" y="573.60" font-size="9.6" fill="#000" text-rendering="geometricPrecision" textLength="9.30" lengthAdjust="spacingAndGlyphs" stroke="#000" stroke-width="0.08">30</text><text x="982.00" y="593.80" font-size="9.6" fill="#000" text-rendering="geometricPrecision" textLength="3.80" lengthAdjust="spacingAndGlyphs" stroke="#000" stroke-width="0.08">0</text></g>
<path d="M4 7H10.6L7.3 10.8Z" fill="#000"/>
<rect x="979.9" y="189" width="39.9" height="9.9" fill="#000"/>
<g font-family='"Liberation Sans", sans-serif'><text x="983.80" y="197.70" font-size="9.6" fill="#f4f4f4" text-rendering="geometricPrecision" textLength="32.30" lengthAdjust="spacingAndGlyphs" stroke="#f4f4f4" stroke-width="0.08">1.30698</text></g>
</svg>
</body></html>
